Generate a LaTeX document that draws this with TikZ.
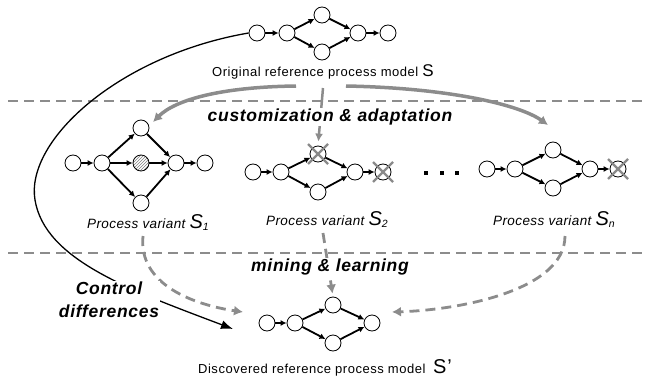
\documentclass[tikz,border=0pt]{standalone}
\usepackage{fontspec}
\setmainfont{Liberation Sans}
\usetikzlibrary{arrows.meta,patterns}
\definecolor{linegray}{HTML}{8C8C8C}
\definecolor{crossgray}{HTML}{8A8A8A}
\newcommand\myBig[2]{{\fontsize{#1}{#1}\selectfont #2}}
\begin{document}
\begin{tikzpicture}[x=1pt,y=-1pt,
  pnode/.style={circle,draw,line width=0.8pt,minimum size=16pt,inner sep=0pt,fill=white},
  flow/.style={line width=1.8pt,-{Latex[length=6pt,width=6pt]}},
  sep/.style={linegray,line width=2.6pt,dash pattern=on 10pt off 6pt},
  garrow/.style={linegray,line width=3.5pt,-{Latex[length=9pt,width=10pt]}},
  darrow/.style={linegray,line width=2.8pt,dash pattern=on 10pt off 6pt,-{Latex[length=9pt,width=10pt]}},
  xmark/.style={crossgray,line width=2.2pt},
  plabel/.style={font=\fontsize{13.5}{15}\selectfont\addfontfeatures{LetterSpace=3}\itshape},
  nlabel/.style={font=\fontsize{13}{15}\selectfont\addfontfeatures{LetterSpace=4}},
  blabel/.style={font=\fontsize{17.5}{23}\selectfont\bfseries\itshape\addfontfeatures{LetterSpace=4}, fill=white, inner sep=1pt, align=center},
  dotsq/.style={rectangle,fill=black,minimum size=4.5pt,inner sep=0pt},
]
\useasboundingbox (0,0) rectangle (645,380);

% separators
\coordinate (sepAL) at (8,101); \coordinate (sepAR) at (645,101);
\coordinate (sepBL) at (8,253); \coordinate (sepBR) at (645,253);
\draw[sep] (sepAL) -- (sepAR);
\draw[sep] (sepBL) -- (sepBR);

% top model
\node[pnode] (t1) at (257,33) {};
\node[pnode] (t2) at (287,33) {};
\node[pnode] (t3) at (322,15) {};
\node[pnode] (t4) at (322,52) {};
\node[pnode] (t5) at (358,33) {};
\node[pnode] (t6) at (388,33) {};
\draw[flow] (t1) -- (t2);
\draw[flow] (t2) -- (t3);
\draw[flow] (t2) -- (t4);
\draw[flow] (t3) -- (t5);
\draw[flow] (t4) -- (t5);
\draw[flow] (t5) -- (t6);
\node[nlabel] (tl) at (323,72) {Original reference process model \myBig{17}{S}};

% S1
\node[pnode] (a1) at (73,163) {};
\node[pnode] (a2) at (102,163) {};
\node[pnode] (a3) at (141,128) {};
\node[pnode,pattern=north east lines,pattern color=gray] (a4) at (141,163) {};
\node[pnode] (a5) at (141,203) {};
\node[pnode] (a6) at (176,163) {};
\node[pnode] (a7) at (205,163) {};
\draw[flow] (a1) -- (a2);
\draw[flow] (a2) -- (a3);
\draw[flow] (a2) -- (a4);
\draw[flow] (a2) -- (a5);
\draw[flow] (a3) -- (a6);
\draw[flow] (a4) -- (a6);
\draw[flow] (a5) -- (a6);
\draw[flow] (a6) -- (a7);
\node[plabel] (l1) at (148,223) {Process variant \myBig{20}{S}\raisebox{-2pt}{\myBig{10.5}{1}}};

% S2
\node[pnode] (c1) at (253,172) {};
\node[pnode] (c2) at (281,172) {};
\node[pnode] (c3) at (318,154) {};
\node[pnode] (c4) at (318,192) {};
\node[pnode] (c5) at (355,172) {};
\node[pnode] (c6) at (383,172) {};
\draw[flow] (c1) -- (c2);
\draw[flow] (c2) -- (c3);
\draw[flow] (c2) -- (c4);
\draw[flow] (c3) -- (c5);
\draw[flow] (c4) -- (c5);
\draw[flow] (c5) -- (c6);
\draw[xmark] (c3.center) ++(-10,-10) -- ++(20,20);
\draw[xmark] (c3.center) ++(10,-10) -- ++(-20,20);
\draw[xmark] (c6.center) ++(-10,-10) -- ++(20,20);
\draw[xmark] (c6.center) ++(10,-10) -- ++(-20,20);
\node[plabel] (l2) at (327,220) {Process variant \myBig{20}{S}\raisebox{-2pt}{\myBig{10.5}{2}}};

% dots
\node[dotsq] (d1) at (426,173) {};
\node[dotsq] (d2) at (442,173) {};
\node[dotsq] (d3) at (457,173) {};

% Sn
\node[pnode] (n1) at (487,169) {};
\node[pnode] (n2) at (515,169) {};
\node[pnode] (n3) at (553,150) {};
\node[pnode] (n4) at (553,188) {};
\node[pnode] (n5) at (590,169) {};
\node[pnode] (n6) at (618,169) {};
\draw[flow] (n1) -- (n2);
\draw[flow] (n2) -- (n3);
\draw[flow] (n2) -- (n4);
\draw[flow] (n3) -- (n5);
\draw[flow] (n4) -- (n5);
\draw[flow] (n5) -- (n6);
\draw[xmark] (n6.center) ++(-10,-10) -- ++(20,20);
\draw[xmark] (n6.center) ++(10,-10) -- ++(-20,20);
\node[plabel] (ln) at (554,220) {Process variant \myBig{20}{S}\raisebox{-2pt}{\myBig{10.5}{n}}};

% bottom model
\node[pnode] (b1) at (267,323) {};
\node[pnode] (b2) at (295,323) {};
\node[pnode] (b3) at (333,305) {};
\node[pnode] (b4) at (333,343) {};
\node[pnode] (b5) at (372,323) {};
\draw[flow] (b1) -- (b2);
\draw[flow] (b2) -- (b3);
\draw[flow] (b2) -- (b4);
\draw[flow] (b3) -- (b5);
\draw[flow] (b4) -- (b5);
\node[nlabel] (bl) at (325,368) {Discovered reference process model \;\myBig{20}{S’}};

% customization arrows
\coordinate (cuL) at (296,86);
\coordinate (cuR) at (346,86);
\coordinate (cuM) at (323,88);
\coordinate (tipL) at (153,122);
\coordinate (tipR) at (548,125);
\draw[garrow] (cuL) .. controls (220,87) and (175,100) .. (tipL);
\draw[garrow] (cuR) .. controls (450,88) and (520,105) .. (tipR);
\draw[garrow,line width=2.5pt,-{Latex[length=8pt,width=8pt]},shorten >=4pt] (cuM) -- (c3.north);
\node[blabel] (cust) at (330,117) {customization \& adaptation};

% mining arrows
\coordinate (mnL) at (143,236);
\coordinate (mnM) at (323,233);
\coordinate (mnR) at (565,236);
\coordinate (mtL) at (243,312);
\coordinate (mtR) at (392,312);
\draw[darrow] (mnL) .. controls (138,285) and (195,305) .. (mtL);
\draw[darrow] (mnR) .. controls (565,290) and (460,310) .. (mtR);
\draw[darrow,shorten >=3pt] (mnM) -- (b3.north);
\node[blabel] (mine) at (330,267) {mining \& learning};

% control differences curve
\coordinate (cdEnd) at (233,329);
\draw[line width=1.3pt,-{Latex[length=12pt,width=9pt]}] (t1.west) .. controls (120,55) and (25,140) .. (35,200) .. controls (45,260) and (130,290) .. (cdEnd);
\node[blabel] (cd) at (109,300) {Control\\differences};
\end{tikzpicture}
\end{document}
